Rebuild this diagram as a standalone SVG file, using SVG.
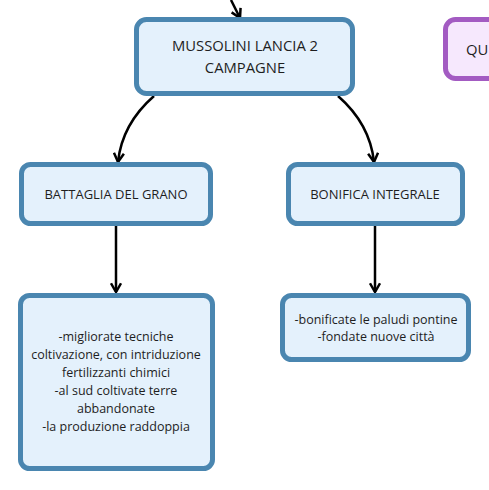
<svg xmlns="http://www.w3.org/2000/svg" width="489" height="490" viewBox="0 0 489 490">
<defs>
<style>
.n{fill:#e4f1fc;stroke:#4a86b0;stroke-width:5}
.p{fill:#f6e8fd;stroke:#a35bc2;stroke-width:5}
.t{font-family:"Open Sans","Liberation Sans",sans-serif;font-size:12.5px;fill:#1e1e1e;text-anchor:middle}
.tc{font-size:13px}
.tm{font-size:14.8px}
.c{fill:none;stroke:#000;stroke-width:2.5;marker-end:url(#a)}
</style>
<marker id="a" viewBox="0 0 10 10" refX="8" refY="5" markerWidth="5" markerHeight="5" orient="auto" markerUnits="strokeWidth">
<path d="M1,1 L8,5 L1,9" fill="none" stroke="#000" stroke-width="2"/>
</marker>
</defs>
<rect width="489" height="490" fill="#fff"/>
<g id="connectors">
<path class="c" d="M231,0 L240,18"/>
<path class="c" d="M154,96 Q122,124 118,162"/>
<path class="c" d="M338,96 Q370,124 374,162"/>
<path class="c" d="M116,226 L116,292"/>
<path class="c" d="M375,226 L375,292"/>
</g>
<g id="main">
<rect class="n" x="136.5" y="19.5" width="216" height="74" rx="10"/>
<text class="t tm" x="245" y="51">MUSSOLINI LANCIA 2</text>
<text class="t tm" x="245" y="73">CAMPAGNE</text>
</g>
<g id="qu">
<rect class="p" x="445.5" y="19.5" width="80" height="59" rx="10"/>
<text class="t tm" x="466" y="55" style="text-anchor:start">QU</text>
</g>
<g id="battaglia">
<rect class="n" x="21.5" y="164.5" width="189" height="59" rx="9"/>
<text class="t tc" x="116" y="198.5">BATTAGLIA DEL GRANO</text>
</g>
<g id="bonifica">
<rect class="n" x="288.5" y="164.5" width="174" height="59" rx="9"/>
<text class="t tc" x="375" y="198.5">BONIFICA INTEGRALE</text>
</g>
<g id="grano-detail">
<rect class="n" x="20.5" y="295.5" width="192" height="173" rx="9"/>
<text class="t" x="116" y="341">-migliorate tecniche</text>
<text class="t" x="116" y="359">coltivazione, con intriduzione</text>
<text class="t" x="116" y="377">fertilizzanti chimici</text>
<text class="t" x="116" y="395">-al sud coltivate terre</text>
<text class="t" x="116" y="413">abbandonate</text>
<text class="t" x="116" y="431">-la produzione raddoppia</text>
</g>
<g id="bonifica-detail">
<rect class="n" x="282.5" y="295.5" width="186" height="64" rx="9"/>
<text class="t" x="376" y="324">-bonificate le paludi pontine</text>
<text class="t" x="376" y="341">-fondate nuove città</text>
</g>
</svg>
